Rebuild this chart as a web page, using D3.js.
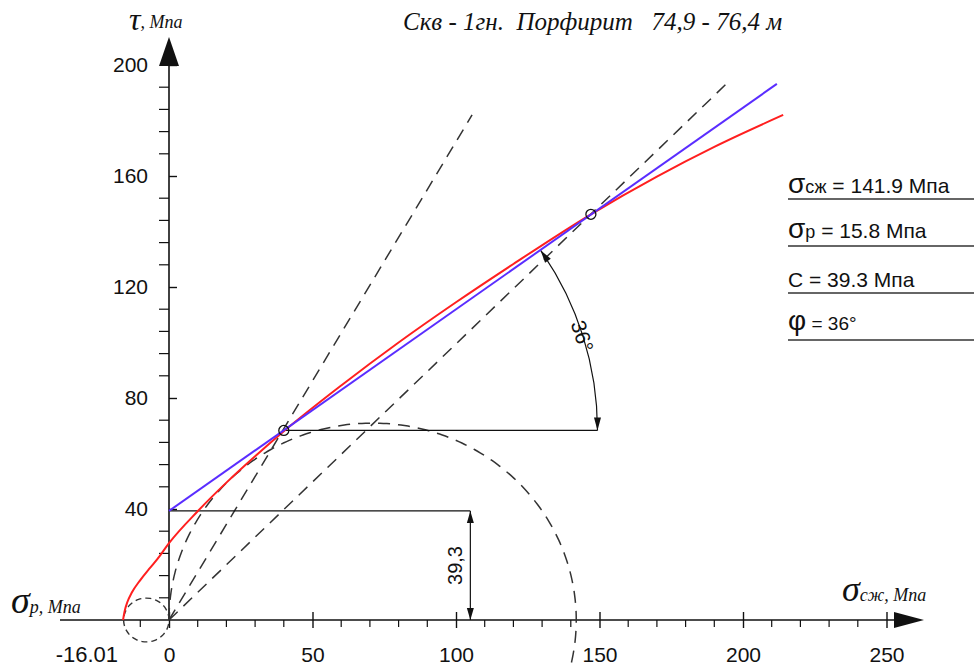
<!DOCTYPE html>
<html>
<head>
<meta charset="utf-8">
<script src="https://cdn.jsdelivr.net/npm/d3@7"></script>
<style>
  body { margin: 0; background: #fff; }
  svg { display: block; }
  text { white-space: pre; }
</style>
</head>
<body>
<script>
// --- data ---
const xTicks = [0, 50, 100, 150, 200, 250];
const yTicks = [40, 80, 120, 160, 200];
const sigmaC = 141.9;      // сжатие
const sigmaT = 15.8;       // растяжение
const cohesion = 39.3;
const phi = 36;
const tensileEnd = -16.01;

// огибающая (красная)
const envelope = [
  [-16.01, 0], [-15.5, 3], [-14.5, 6.5], [-13, 9.8], [-10, 14.4], [-7, 18.3],
  [-4, 22], [0, 27.7], [10, 39.2], [20, 49.5], [30, 59], [40, 68],
  [60, 84.5], [80, 100], [100, 114.5], [120, 128.3], [147, 146.2],
  [170, 159.8], [190, 170.5], [214, 182]
];
// прямая Кулона (синяя)
const coulomb = [[0, 39.3], [211.8, 193.2]];
// точки касания
const touchPts = [[40, 68.3], [147, 146.2]];
// пунктирные лучи из начала координат
const rays = [
  [[0, 0], [105.6, 182]],
  [[0, 0], [194, 193]]
];
const dimX = 105;   // размерная линия 39,3
const arcEndX = 149.3;

const svg = d3.select("body")
  .append("svg")
  .attr("width", 976)
  .attr("height", 668);

const x = d3.scaleLinear().domain([0, 250]).range([169, 886.5]);
const y = d3.scaleLinear().domain([0, 200]).range([620, 65]);

const ink = "#111";
const dashC = "#333";

// --- axes ---
const xAxis = svg.append("g")
  .attr("transform", `translate(0,${y(0)})`)
  .call(d3.axisBottom(x).tickValues(xTicks).tickSize(8).tickPadding(19).tickFormat(d3.format("d")));
xAxis.select(".domain").remove();
xAxis.selectAll(".tick line").attr("y1", -8).attr("stroke", ink).attr("stroke-width", 1.4);
xAxis.selectAll(".tick text").attr("font-family", "Liberation Sans, Arial").attr("font-size", 21).attr("fill", ink);

const xMinor = d3.range(-10, 250, 10).filter(d => d % 50 !== 0);
svg.append("g").selectAll("line")
  .data(xMinor)
  .enter()
  .append("line")
  .attr("x1", d => x(d)).attr("x2", d => x(d))
  .attr("y1", y(0)).attr("y2", y(0) + 7)
  .attr("stroke", ink).attr("stroke-width", 1.2);

svg.append("text")
  .attr("x", x(tensileEnd) - 5)
  .attr("y", y(0) + 42)
  .attr("text-anchor", "end")
  .attr("font-family", "Liberation Sans, Arial")
  .attr("font-size", 22)
  .attr("fill", ink)
  .text(tensileEnd.toFixed(2));

const yAxis = svg.append("g")
  .attr("transform", `translate(${x(0)},0)`)
  .call(d3.axisLeft(y).tickValues(yTicks).tickSize(10).tickPadding(11).tickFormat(d3.format("d")));
yAxis.select(".domain").remove();
yAxis.selectAll(".tick line").attr("x2", 8).attr("stroke", ink).attr("stroke-width", 1.4);
yAxis.selectAll(".tick text").attr("font-family", "Liberation Sans, Arial").attr("font-size", 21).attr("fill", ink);

const yMinor = d3.range(8, 200, 8).filter(d => d % 40 !== 0);
svg.append("g").selectAll("line")
  .data(yMinor)
  .enter()
  .append("line")
  .attr("x1", x(0) - 10).attr("x2", x(0))
  .attr("y1", d => y(d)).attr("y2", d => y(d))
  .attr("stroke", ink).attr("stroke-width", 1.2);

// axis lines + arrows
svg.append("line")
  .attr("x1", 60).attr("x2", 900)
  .attr("y1", y(0)).attr("y2", y(0))
  .attr("stroke", ink).attr("stroke-width", 1.6);
svg.append("path")
  .attr("d", `M924,${y(0)} L894,${y(0) - 8} L894,${y(0) + 8} Z`)
  .attr("fill", ink);
svg.append("line")
  .attr("x1", x(0)).attr("x2", x(0))
  .attr("y1", y(0)).attr("y2", 60)
  .attr("stroke", ink).attr("stroke-width", 1.6);
svg.append("path")
  .attr("d", `M${x(0)},37 L${x(0) - 10},66 L${x(0) + 10},66 Z`)
  .attr("fill", ink);

// --- dashed construction ---
const line = d3.line().x(d => x(d[0])).y(d => y(d[1]));

svg.append("g").selectAll("path")
  .data(rays)
  .enter()
  .append("path")
  .attr("d", line)
  .attr("fill", "none")
  .attr("stroke", dashC)
  .attr("stroke-width", 1.5)
  .attr("stroke-dasharray", "12,8");

// круг Мора (сжатие)
const rc = sigmaC / 2;
const bigArc = d3.range(180, -26, -2).map(a => [rc + rc * Math.cos(a * Math.PI / 180), rc * Math.sin(a * Math.PI / 180)]);
svg.append("path")
  .attr("d", line.curve(d3.curveCatmullRom)(bigArc))
  .attr("fill", "none")
  .attr("stroke", dashC)
  .attr("stroke-width", 1.5)
  .attr("stroke-dasharray", "12,8");

// круг Мора (растяжение)
const rt = sigmaT / 2;
const smallCirc = d3.range(0, 361, 10).map(a => [-rt + rt * Math.cos(a * Math.PI / 180), rt * Math.sin(a * Math.PI / 180)]);
svg.append("path")
  .attr("d", line.curve(d3.curveCatmullRom)(smallCirc))
  .attr("fill", "none")
  .attr("stroke", dashC)
  .attr("stroke-width", 1.4)
  .attr("stroke-dasharray", "6,4");

line.curve(d3.curveLinear);

// --- dimension 39,3 ---
svg.append("line")
  .attr("x1", x(0)).attr("x2", x(dimX))
  .attr("y1", y(cohesion)).attr("y2", y(cohesion))
  .attr("stroke", ink).attr("stroke-width", 1.2);
svg.append("line")
  .attr("x1", x(dimX)).attr("x2", x(dimX))
  .attr("y1", y(cohesion)).attr("y2", y(0))
  .attr("stroke", ink).attr("stroke-width", 1.2);
svg.append("path")
  .attr("d", `M${x(dimX)},${y(cohesion)} l-3.5,12 l7,0 Z M${x(dimX)},${y(0)} l-3.5,-12 l7,0 Z`)
  .attr("fill", ink);
svg.append("text")
  .attr("transform", `translate(${x(dimX) - 8},${(y(cohesion) + y(0)) / 2}) rotate(-90)`)
  .attr("text-anchor", "middle")
  .attr("font-family", "Liberation Sans, Arial")
  .attr("font-size", 20)
  .attr("fill", ink)
  .text("39,3");

// --- angle 36° ---
const cx = x(touchPts[0][0]), cy = y(touchPts[0][1]);
const R = x(arcEndX) - cx;
const ang = Math.atan2(y(coulomb[0][1]) - y(coulomb[1][1]), x(coulomb[1][0]) - x(coulomb[0][0]));
svg.append("line")
  .attr("x1", cx).attr("x2", cx + R)
  .attr("y1", cy).attr("y2", cy)
  .attr("stroke", ink).attr("stroke-width", 1.2);
svg.append("path")
  .attr("d", d3.arc()({ innerRadius: R, outerRadius: R, startAngle: Math.PI / 2 - ang, endAngle: Math.PI / 2 }))
  .attr("transform", `translate(${cx},${cy})`)
  .attr("fill", "none")
  .attr("stroke", ink)
  .attr("stroke-width", 1.2);
// arrowheads
function arrowHead(theta, dir) {
  const px = cx + R * Math.cos(theta), py = cy - R * Math.sin(theta);
  // tangent pointing toward increasing theta
  const tx = -Math.sin(theta) * dir, ty = -Math.cos(theta) * dir;
  const nx = -ty, ny = tx;
  const L = 13, W = 3.5;
  const bx = px - tx * L, by = py - ty * L;
  return `M${px},${py} L${bx + nx * W},${by + ny * W} L${bx - nx * W},${by - ny * W} Z`;
}
svg.append("path")
  .attr("d", arrowHead(ang, 1) + arrowHead(0, -1))
  .attr("fill", ink);
const midA = ang * 0.5;
svg.append("text")
  .attr("transform", `translate(${cx + (R - 8) * Math.cos(midA)},${cy - (R - 8) * Math.sin(midA)}) rotate(${90 - midA * 180 / Math.PI})`)
  .attr("text-anchor", "middle")
  .attr("font-family", "Liberation Sans, Arial")
  .attr("font-size", 21)
  .attr("fill", ink)
  .text(phi + "°");

// --- envelope & Coulomb line ---
svg.append("path")
  .attr("d", d3.line().x(d => x(d[0])).y(d => y(d[1])).curve(d3.curveMonotoneX)(envelope))
  .attr("fill", "none")
  .attr("stroke", "#ff1f1f")
  .attr("stroke-width", 2);
svg.append("path")
  .attr("d", line(coulomb))
  .attr("fill", "none")
  .attr("stroke", "#5a2dff")
  .attr("stroke-width", 2);

svg.append("g").selectAll("circle")
  .data(touchPts)
  .enter()
  .append("circle")
  .attr("cx", d => x(d[0]))
  .attr("cy", d => y(d[1]))
  .attr("r", 5)
  .attr("fill", "none")
  .attr("stroke", ink)
  .attr("stroke-width", 1.3);

// --- labels ---
const serif = "Liberation Serif, Times New Roman, serif";
const sans = "Liberation Sans, Arial, sans-serif";

svg.append("text")
  .attr("x", 403).attr("y", 30)
  .attr("font-family", serif).attr("font-style", "italic").attr("font-size", 25)
  .attr("fill", ink)
  .text("Скв - 1гн.  Порфирит   74,9 - 76,4 м");

const tauLab = svg.append("text").attr("x", 129).attr("y", 30).attr("font-family", serif).attr("font-style", "italic").attr("fill", ink);
tauLab.append("tspan").attr("font-size", 32).text("τ");
tauLab.append("tspan").attr("font-size", 18).attr("dy", -2).text(", Мпа");

const spLab = svg.append("text").attr("x", 11).attr("y", 613).attr("font-family", serif).attr("font-style", "italic").attr("fill", ink);
spLab.append("tspan").attr("font-size", 38).text("σ");
spLab.append("tspan").attr("font-size", 18).text("p, Мпа");

const scLab = svg.append("text").attr("x", 842).attr("y", 601).attr("font-family", serif).attr("font-style", "italic").attr("fill", ink);
scLab.append("tspan").attr("font-size", 36).text("σ");
scLab.append("tspan").attr("font-size", 18).text("сж, Мпа");

// --- parameters block ---
const rows = [
  { big: "σ", sub: "сж", rest: " = " + sigmaC + " Мпа", base: 193, rule: 199 },
  { big: "σ", sub: "р", rest: " = " + sigmaT + " Мпа", base: 238, rule: 246 },
  { big: "", sub: "", rest: "С = " + cohesion + " Мпа", base: 287, rule: 293 },
  { big: "φ", sub: "", rest: " = " + phi + "°", base: 330, rule: 340 }
];
rows.forEach(r => {
  const t = svg.append("text").attr("x", 788).attr("y", r.base).attr("font-family", sans).attr("fill", ink);
  if (r.big) t.append("tspan").attr("font-size", 28).text(r.big);
  if (r.sub) t.append("tspan").attr("font-size", 18).text(r.sub);
  t.append("tspan").attr("font-size", r.big === "φ" ? 19 : 21).text(r.rest);
  svg.append("line")
    .attr("x1", 788).attr("x2", 974)
    .attr("y1", r.rule).attr("y2", r.rule)
    .attr("stroke", "#333").attr("stroke-width", 1.3);
});
</script>
</body>
</html>
